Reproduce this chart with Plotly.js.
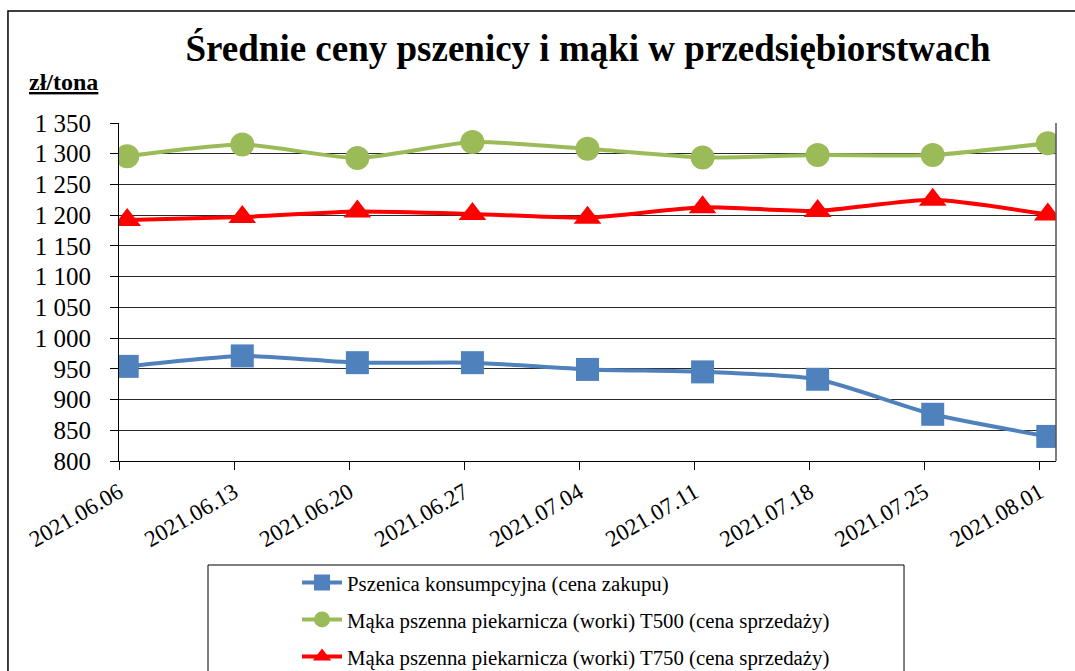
<!DOCTYPE html>
<html>
<head>
<meta charset="utf-8">
<script src="https://cdn.plot.ly/plotly-3.0.1.min.js"></script>
<style>
html,body{margin:0;padding:0;background:#fff;}
#chart{width:1075px;height:671px;}
#chart svg text{font-family:"Liberation Serif","Times New Roman",serif !important;}
</style>
</head>
<body>
<div id="chart"></div>
<script>
// Data
const tickDates = ['2021-06-06','2021-06-13','2021-06-20','2021-06-27','2021-07-04','2021-07-11','2021-07-18','2021-07-25','2021-08-01'];
const tickLabels = ['2021.06.06','2021.06.13','2021.06.20','2021.06.27','2021.07.04','2021.07.11','2021.07.18','2021.07.25','2021.08.01'];
const pointDates = ['2021-06-06 12:00','2021-06-13 12:00','2021-06-20 12:00','2021-06-27 12:00','2021-07-04 12:00','2021-07-11 12:00','2021-07-18 12:00','2021-07-25 12:00','2021-08-01 12:00'];
const pszenica = [954, 971, 960, 960, 949, 945, 933, 876, 840];
const makaT500 = [1296, 1315, 1293, 1319, 1308, 1294, 1298, 1298, 1317];
const makaT750 = [1192, 1197, 1206, 1202, 1196, 1213, 1207, 1225, 1201];
const seriesNames = [
  'Pszenica konsumpcyjna (cena zakupu)',
  'Mąka pszenna piekarnicza (worki) T500 (cena sprzedaży)',
  'Mąka pszenna piekarnicza (worki) T750 (cena sprzedaży)'
];

const serif = 'Liberation Serif';

const traces = [
  {x: pointDates, y: pszenica, name: seriesNames[0], legendgroup: 'a', mode: 'lines+markers',
   line: {color: '#4F81BD', width: 4, shape: 'spline', smoothing: 0.6},
   marker: {symbol: 'square', size: 23, color: '#4F81BD'}},
  {x: pointDates, y: makaT500, name: seriesNames[1], legendgroup: 'b', mode: 'lines+markers',
   line: {color: '#9BBB59', width: 4, shape: 'spline', smoothing: 0.6},
   marker: {symbol: 'circle', size: 24, color: '#9BBB59'}},
  {x: pointDates, y: makaT750, name: seriesNames[2], legendgroup: 'c', mode: 'lines+markers',
   line: {color: '#FF0000', width: 4, shape: 'spline', smoothing: 0.6},
   marker: {symbol: 'triangle-up', size: 24, color: '#FF0000'}}
];

const layout = {
  width: 1075, height: 671,
  margin: {l: 119, r: 19, t: 123, b: 210, autoexpand: false},
  paper_bgcolor: '#fff', plot_bgcolor: '#fff',
  separators: ', ',
  showlegend: true,
  title: {text: '<b>Średnie ceny pszenicy i mąki w przedsiębiorstwach</b>',
          font: {family: serif, size: 37, color: '#000'},
          x: 0.547, xanchor: 'center', y: 0.928, yanchor: 'middle', xref: 'container', yref: 'container'},
  xaxis: {type: 'date', range: ['2021-06-06', '2021-08-02'],
          tickmode: 'array', tickvals: tickDates, ticktext: tickLabels,
          tickangle: -30, ticks: 'outside', ticklen: 8, tickcolor: '#000',
          showgrid: false, zeroline: false, showline: true, linecolor: '#000', linewidth: 1,
          tickfont: {family: serif, size: 23, color: '#000'}, fixedrange: true, automargin: false},
  yaxis: {range: [800, 1350], dtick: 50, tick0: 800, tickformat: ',d',
          ticks: 'outside', ticklen: 8, tickcolor: '#000', ticklabelstandoff: 14,
          showgrid: true, gridcolor: '#2a2a2a', gridwidth: 1, zeroline: false,
          showline: true, linecolor: '#000', linewidth: 1, mirror: false,
          tickfont: {family: serif, size: 25, color: '#000'}, fixedrange: true, automargin: false},
  legend: {x: 0.19, xanchor: 'left', y: -0.3, yanchor: 'top', bgcolor: 'rgba(0,0,0,0)',
           borderwidth: 0, tracegroupgap: 7, font: {family: serif, size: 20.8, color: '#000'},
           itemwidth: 40},
  annotations: [
    {text: '<b><u>zł/tona</u></b>', xref: 'paper', yref: 'paper', x: -0.098, y: 1.121,
     xanchor: 'left', yanchor: 'middle', showarrow: false, font: {family: serif, size: 24, color: '#000'}}
  ],
  shapes: [
    {type: 'rect', xref: 'paper', yref: 'paper', x0: -0.1185, x1: 1.03, y0: -0.66, y1: 1.3314,
     line: {color: '#000', width: 1.5}, fillcolor: 'rgba(0,0,0,0)', layer: 'below'},
    {type: 'rect', xref: 'paper', yref: 'paper', x0: 0.095, x1: 0.8378, y0: -0.66, y1: -0.3077,
     line: {color: '#000', width: 1}, fillcolor: 'rgba(0,0,0,0)', layer: 'below'},
    {type: 'line', xref: 'paper', yref: 'paper', x0: 1, x1: 1, y0: 0, y1: 1,
     line: {color: '#555', width: 1.5}}
  ]
};

Plotly.newPlot('chart', traces, layout, {displayModeBar: false});
</script>
</body>
</html>
